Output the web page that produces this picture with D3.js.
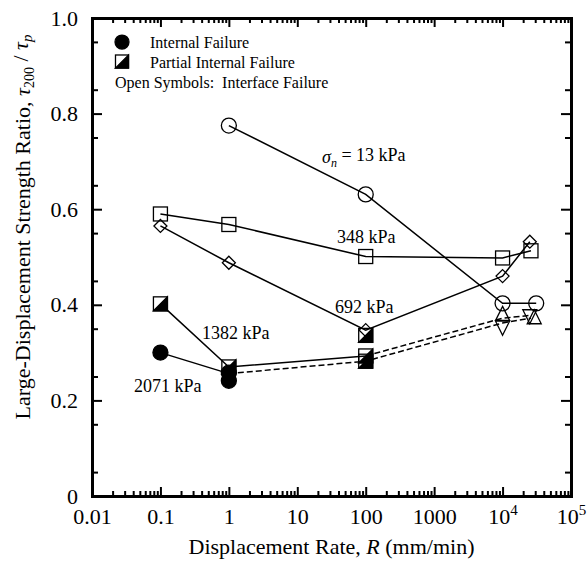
<!DOCTYPE html>
<html><head><meta charset="utf-8">
<script src="https://cdn.jsdelivr.net/npm/d3@7"></script>
<style>
body{margin:0;background:#fff}
svg text{font-family:'Liberation Serif','DejaVu Serif',serif !important;fill:#000}
</style>
</head><body>
<svg id="c" width="587" height="567" font-family="Liberation Serif"></svg>
<script>
// ---------- data ----------
const xTickValues = [0.01, 0.1, 1, 10, 100, 1000, 1e4, 1e5];
const xTickLabels = ["0.01", "0.1", "1", "10", "100", "1000", "10^4", "10^5"];
const yTickValues = [0, 0.2, 0.4, 0.6, 0.8, 1.0];
const yTickLabels = ["0", "0.2", "0.4", "0.6", "0.8", "1.0"];

// sigma_n = 13 kPa (open circles)
const rate13 = [1, 100, 1e4, 3.1e4];
const ratio13 = [0.775, 0.631, 0.403, 0.403];
// 348 kPa (open squares)
const rate348 = [0.1, 1, 100, 1e4, 2.6e4];
const ratio348 = [0.590, 0.568, 0.501, 0.498, 0.513];
// 692 kPa (open diamonds)
const rate692 = [0.1, 1, 100, 1e4, 2.5e4];
const ratio692 = [0.565, 0.488, 0.347, 0.460, 0.532];
// 1382 kPa
const rate1382 = [0.1, 1, 100];
const ratio1382 = [0.402, 0.270, 0.293];
const rate1382Dash = [100, 1e4, 2.6e4];
const ratio1382Dash = [0.293, 0.372, 0.378];
// 2071 kPa
const rate2071 = [0.1, 1];
const ratio2071 = [0.300, 0.256];
const rate2071Dash = [1, 100, 1e4, 2.6e4];
const ratio2071Dash = [0.256, 0.282, 0.362, 0.372];

// marker sets
const halfSquareRate = [0.1, 1, 100, 100, 100];
const halfSquareRatio = [0.402, 0.270, 0.336, 0.293, 0.282];
const filledCircleRate = [0.1, 1, 1];
const filledCircleRatio = [0.300, 0.258, 0.241];
const triUpRate = [1e4, 2.9e4];
const triUpRatio = [0.382, 0.375];
const triDownRate = [1e4, 2.5e4];
const triDownRatio = [0.351, 0.375];

// annotations (data coordinates)
const annText = ["348 kPa", "692 kPa", "1382 kPa", "2071 kPa"];
const annRate = [38, 35.6, 0.405, 0.041];
const annRatio = [0.529, 0.383, 0.328, 0.218];
const sigmaRate = 23, sigmaRatio = 0.697;

const legendSymbols = ["filledCircle", "halfSquare"];
const legendLabels = ["Internal Failure", "Partial Internal Failure"];
const legendNote = "Open Symbols:\u00a0\u00a0Interface Failure";

// ---------- layout ----------
const FONT = "'Liberation Serif','DejaVu Serif',serif";
const W = 587, H = 567;
const M = {left: 92, right: 16, top: 18, bottom: 71};
const svg = d3.select("#c");
const x = d3.scaleLog().domain([0.01, 1e5]).range([M.left, W - M.right]);
const y = d3.scaleLinear().domain([0, 1]).range([H - M.bottom, M.top]);

const xMinor = [];
for (let e = -2; e < 5; e++) for (let k = 2; k <= 9; k++) xMinor.push(k * Math.pow(10, e));
const yMinor = d3.range(0.05, 1, 0.1).map(v => +v.toFixed(2));

function styleAxis(g, domainW) {
  g.attr("font-family", FONT);
  g.select(".domain").attr("stroke", "#000").attr("stroke-width", domainW || 0).attr("stroke-linecap", "square");
  g.selectAll(".tick line").attr("stroke", "#000").attr("stroke-width", 2);
}
const B = H - M.bottom, T = M.top, L = M.left, R = W - M.right;

// minor ticks
svg.append("g").attr("transform", `translate(0,${B})`)
  .call(d3.axisBottom(x).tickValues(xMinor).tickSize(-5).tickFormat("")).call(g => styleAxis(g, 0));
svg.append("g").attr("transform", `translate(0,${T})`)
  .call(d3.axisTop(x).tickValues(xMinor).tickSize(-5).tickFormat("")).call(g => styleAxis(g, 0));
svg.append("g").attr("transform", `translate(${L},0)`)
  .call(d3.axisLeft(y).tickValues(yMinor).tickSize(-6).tickFormat("")).call(g => styleAxis(g, 0));
svg.append("g").attr("transform", `translate(${R},0)`)
  .call(d3.axisRight(y).tickValues(yMinor).tickSize(-6).tickFormat("")).call(g => styleAxis(g, 0));

// major ticks
const xb = svg.append("g").attr("transform", `translate(0,${B})`)
  .call(d3.axisBottom(x).tickValues(xTickValues).tickSizeInner(-9).tickSizeOuter(0).tickPadding(12)
    .tickFormat((d, i) => xTickLabels[i]));
xb.call(g => styleAxis(g, 3));
xb.selectAll(".tick text").attr("font-size", 22).each(function(d, i) {
  const lab = xTickLabels[i];
  if (lab.includes("^")) {
    const [base, sup] = lab.split("^");
    const t = d3.select(this).text("");
    t.append("tspan").text(base);
    t.append("tspan").attr("font-size", 15).attr("dy", "-0.55em").text(sup);
  }
});
svg.append("g").attr("transform", `translate(0,${T})`)
  .call(d3.axisTop(x).tickValues(xTickValues).tickSizeInner(-9).tickSizeOuter(0).tickFormat(""))
  .call(g => styleAxis(g, 3));
const yl = svg.append("g").attr("transform", `translate(${L},0)`)
  .call(d3.axisLeft(y).tickValues(yTickValues).tickSizeInner(-10).tickSizeOuter(0).tickPadding(14)
    .tickFormat((d, i) => yTickLabels[i]));
yl.call(g => styleAxis(g, 3));
yl.selectAll(".tick text").attr("font-size", 22);
svg.append("g").attr("transform", `translate(${R},0)`)
  .call(d3.axisRight(y).tickValues(yTickValues).tickSizeInner(-10).tickSizeOuter(0).tickFormat(""))
  .call(g => styleAxis(g, 3));
svg.selectAll(".domain").attr("fill", "none");

// ---------- lines ----------
const line = d3.line().x(d => x(d[0])).y(d => y(d[1]));
const zip = (a, b) => a.map((v, i) => [v, b[i]]);
const plot = svg.append("g");
function drawLine(rates, ratios, dashed) {
  plot.append("path").datum(zip(rates, ratios)).attr("d", line)
    .attr("fill", "none").attr("stroke", "#000").attr("stroke-width", 1.5)
    .attr("stroke-dasharray", dashed ? "6,3" : null);
}
drawLine(rate13, ratio13);
drawLine(rate348, ratio348);
drawLine(rate692, ratio692);
drawLine(rate1382, ratio1382);
drawLine(rate1382Dash, ratio1382Dash, true);
drawLine(rate2071, ratio2071);
drawLine(rate2071Dash, ratio2071Dash, true);

// ---------- symbols ----------
function symbol(g, type, cx, cy, s) {
  s = s || 1;
  const sw = 1.3;
  if (type === "openCircle" || type === "filledCircle") {
    g.append("circle").attr("cx", cx).attr("cy", cy).attr("r", 7.5 * s)
      .attr("fill", type === "filledCircle" ? "#000" : "none").attr("stroke", "#000").attr("stroke-width", sw);
  } else if (type === "openSquare" || type === "halfSquare") {
    const h = 7 * s;
    g.append("rect").attr("x", cx - h).attr("y", cy - h).attr("width", 2 * h).attr("height", 2 * h)
      .attr("fill", "none").attr("stroke", "#000").attr("stroke-width", sw);
    if (type === "halfSquare") {
      g.append("path").attr("d", `M${cx - h},${cy + h}L${cx + h},${cy + h}L${cx + h},${cy - h}Z`)
        .attr("fill", "#000").attr("stroke", "#000").attr("stroke-width", sw);
    }
  } else if (type === "openDiamond") {
    const h = 6.5 * s;
    g.append("path").attr("d", `M${cx},${cy - h}L${cx + h},${cy}L${cx},${cy + h}L${cx - h},${cy}Z`)
      .attr("fill", "none").attr("stroke", "#000").attr("stroke-width", sw);
  } else if (type === "triUp" || type === "triDown") {
    const w = 7 * s, hh = 7 * s, d = type === "triUp" ? 1 : -1;
    g.append("path").attr("d", `M${cx},${cy - d * hh}L${cx + w},${cy + d * hh}L${cx - w},${cy + d * hh}Z`)
      .attr("fill", "none").attr("stroke", "#000").attr("stroke-width", sw);
  }
}
const marks = svg.append("g");
function drawMarks(type, rates, ratios) {
  rates.forEach((r, i) => symbol(marks, type, x(r), y(ratios[i])));
}
drawMarks("openCircle", rate13, ratio13);
drawMarks("openSquare", rate348, ratio348);
drawMarks("openDiamond", rate692, ratio692);
drawMarks("triUp", triUpRate, triUpRatio);
drawMarks("triDown", triDownRate, triDownRatio);
drawMarks("halfSquare", halfSquareRate, halfSquareRatio);
drawMarks("filledCircle", filledCircleRate, filledCircleRatio);

// ---------- annotations ----------
const txt = (sel) => sel.append("text").attr("font-family", FONT);
annText.forEach((t, i) => {
  txt(svg).attr("x", x(annRate[i])).attr("y", y(annRatio[i])).attr("font-size", 18).text(t);
});
const st = txt(svg).attr("x", x(sigmaRate)).attr("y", y(sigmaRatio)).attr("font-size", 18);
st.append("tspan").attr("font-style", "italic").text("σ");
st.append("tspan").attr("font-style", "italic").attr("font-size", 12).attr("dy", "0.35em").text("n");
st.append("tspan").attr("dy", "-0.35em").text(" = 13 kPa");

// ---------- legend ----------
const lg = svg.append("g");
legendSymbols.forEach((s, i) => {
  symbol(lg, s, 122, 42 + i * 19.5, 0.93);
  txt(lg).attr("x", 150).attr("y", 48 + i * 19.5).attr("font-size", 16).text(legendLabels[i]);
});
txt(lg).attr("x", 115).attr("y", 88).attr("font-size", 16).text(legendNote);

// ---------- axis titles ----------
const xt = txt(svg).attr("x", (L + R) / 2).attr("y", 554).attr("text-anchor", "middle").attr("font-size", 22);
xt.append("tspan").text("Displacement Rate,");
xt.append("tspan").attr("font-style", "italic").text(" R");
xt.append("tspan").text(" (mm/min)");

const yt = txt(svg).attr("transform", `translate(30,${(T + B) / 2 - 30}) rotate(-90)`)
  .attr("text-anchor", "middle").attr("font-size", 22);
yt.append("tspan").text("Large-Displacement Strength Ratio, ");
yt.append("tspan").attr("font-style", "italic").text("τ");
yt.append("tspan").attr("font-size", 14).attr("dy", "0.3em").text("200");
yt.append("tspan").attr("dy", "-0.3em").text(" / ");
yt.append("tspan").attr("font-style", "italic").text("τ");
yt.append("tspan").attr("font-style", "italic").attr("font-size", 15).attr("dy", "0.3em").text("p");
</script>
</body></html>
